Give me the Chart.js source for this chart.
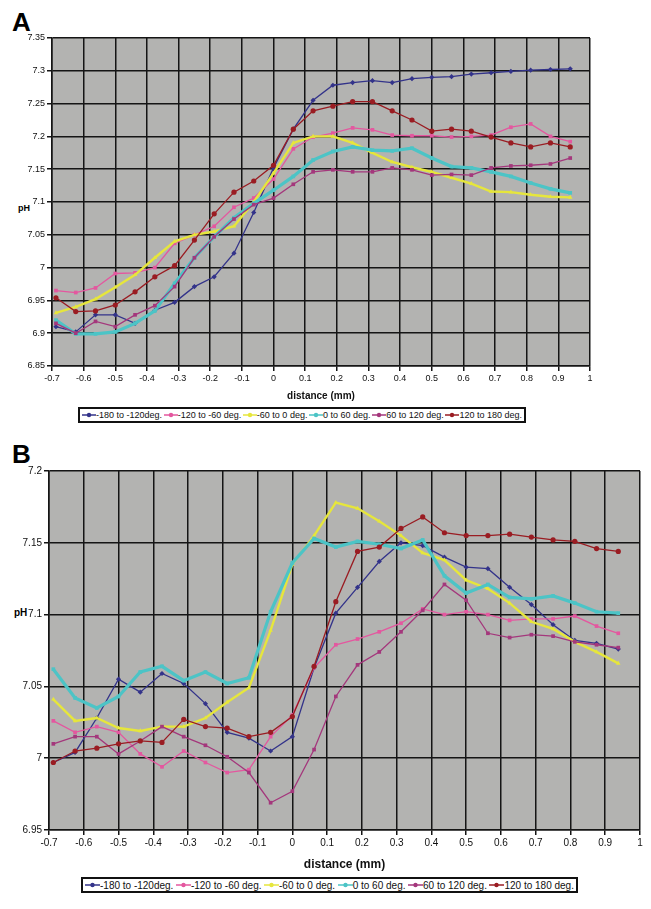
<!DOCTYPE html>
<html>
<head>
<meta charset="utf-8">
<script src="https://cdn.jsdelivr.net/npm/chart.js@4.4.0/dist/chart.umd.min.js"></script>
<style>
  body { margin:0; background:#fff; font-family:"Liberation Sans", Arial, sans-serif; }
  #page { position:relative; width:651px; height:909px; overflow:hidden; }
  canvas { position:absolute; left:0; }
  .panel { position:absolute; font-weight:bold; font-size:26px; line-height:1; }
  .ph { position:absolute; font-weight:bold; line-height:1; }
  .legend { position:absolute; border:2px solid #111; box-sizing:border-box; height:16px;
            display:flex; align-items:center; justify-content:space-between; padding:0 2px;
            white-space:nowrap; color:#111; }
  .legend .item { display:inline-flex; align-items:center; }
</style>
</head>
<body>
<div id="page">
  <div class="panel" style="left:12px;top:9px;">A</div>
  <div class="ph" style="left:18px;top:204px;font-size:9px;">pH</div>
  <canvas id="chartA" width="651" height="402" style="top:0;"></canvas>
  <div class="legend" id="legendA" style="left:78px;top:407px;width:448px;font-size:9px;"></div>

  <div class="panel" style="left:12px;top:441px;">B</div>
  <div class="ph" style="left:14px;top:608px;font-size:10px;">pH</div>
  <canvas id="chartB" width="651" height="447" style="top:425px;"></canvas>
  <div class="legend" id="legendB" style="left:81px;top:877px;width:497px;font-size:10px;"></div>
</div>
<script>
// distance (mm) of each measuring point
const distance = [-0.6875, -0.625, -0.5625, -0.5, -0.4375, -0.375, -0.3125, -0.25, -0.1875,
  -0.125, -0.0625, 0, 0.0625, 0.125, 0.1875, 0.25, 0.3125, 0.375, 0.4375, 0.5, 0.5625,
  0.625, 0.6875, 0.75, 0.8125, 0.875, 0.9375];

const seriesNames = ['-180 to -120deg.', '-120 to -60 deg.', '-60 to 0 deg.',
  '0 to 60 deg.', '60 to 120 deg.', '120 to 180 deg.'];
const seriesColors = ['#33338a', '#e4579f', '#e6e63c', '#4cc4c6', '#a4377c', '#9a1c22'];
const seriesMarkers = ['rectRot', 'rect', 'triangle', 'rect', 'rect', 'circle'];
const seriesWidths = [1.3, 1.3, 2.4, 3.2, 1.3, 1.3];

// panel A
const aNeg180 = [6.910, 6.902, 6.928, 6.928, 6.915, 6.935, 6.947, 6.971, 6.986, 7.022, 7.084,
  7.152, 7.211, 7.255, 7.278, 7.282, 7.285, 7.282, 7.288, 7.290, 7.291, 7.295, 7.297, 7.299,
  7.301, 7.302, 7.303];
const aNeg120 = [6.965, 6.962, 6.969, 6.991, 6.992, 7.000, 7.037, 7.050, 7.063, 7.092, 7.106,
  7.135, 7.181, 7.199, 7.205, 7.213, 7.210, 7.202, 7.201, 7.201, 7.199, 7.200, 7.202, 7.214,
  7.219, 7.200, 7.192];
const aNeg60 = [6.931, 6.940, 6.952, 6.970, 6.989, 7.015, 7.040, 7.050, 7.055, 7.063, 7.100,
  7.144, 7.190, 7.200, 7.200, 7.190, 7.175, 7.161, 7.153, 7.146, 7.137, 7.128, 7.116, 7.115,
  7.111, 7.108, 7.107];
const aPos0 = [6.920, 6.899, 6.899, 6.902, 6.915, 6.934, 6.976, 7.015, 7.047, 7.076, 7.098,
  7.118, 7.139, 7.164, 7.177, 7.184, 7.179, 7.178, 7.182, 7.167, 7.154, 7.152, 7.146, 7.139,
  7.129, 7.120, 7.114];
const aPos60 = [6.915, 6.900, 6.918, 6.910, 6.928, 6.942, 6.971, 7.015, 7.047, 7.074, 7.096,
  7.106, 7.127, 7.146, 7.149, 7.146, 7.146, 7.152, 7.149, 7.141, 7.142, 7.141, 7.152, 7.155,
  7.156, 7.158, 7.167];
const aPos120 = [6.954, 6.933, 6.934, 6.943, 6.963, 6.986, 7.003, 7.042, 7.082, 7.115, 7.132,
  7.156, 7.211, 7.239, 7.246, 7.253, 7.253, 7.239, 7.225, 7.208, 7.211, 7.208, 7.199, 7.190,
  7.184, 7.190, 7.184];

// panel B
const bNeg180 = [6.997, 7.004, 7.028, 7.055, 7.046, 7.059, 7.052, 7.038, 7.018, 7.014, 7.005,
  7.015, 7.063, 7.101, 7.119, 7.137, 7.150, 7.148, 7.140, 7.133, 7.132, 7.119, 7.107, 7.093,
  7.082, 7.080, 7.076];
const bNeg120 = [7.026, 7.018, 7.022, 7.018, 7.003, 6.994, 7.005, 6.997, 6.990, 6.992, 7.015,
  7.030, 7.063, 7.079, 7.083, 7.088, 7.094, 7.104, 7.100, 7.102, 7.100, 7.096, 7.097, 7.097,
  7.099, 7.092, 7.087];
const bNeg60 = [7.041, 7.026, 7.028, 7.021, 7.019, 7.022, 7.022, 7.028, 7.039, 7.049, 7.089,
  7.135, 7.155, 7.178, 7.174, 7.165, 7.155, 7.143, 7.138, 7.124, 7.118, 7.108, 7.095, 7.090,
  7.081, 7.074, 7.066];
const bPos0 = [7.062, 7.042, 7.035, 7.043, 7.060, 7.064, 7.054, 7.060, 7.052, 7.056, 7.102,
  7.136, 7.153, 7.147, 7.151, 7.149, 7.146, 7.152, 7.127, 7.115, 7.121, 7.112, 7.111, 7.113,
  7.108, 7.102, 7.101];
const bPos60 = [7.010, 7.015, 7.015, 7.003, 7.012, 7.022, 7.015, 7.009, 7.001, 6.990, 6.969,
  6.977, 7.006, 7.043, 7.065, 7.074, 7.088, 7.103, 7.121, 7.110, 7.087, 7.084, 7.086, 7.085,
  7.081, 7.079, 7.077];
const bPos120 = [6.997, 7.005, 7.007, 7.010, 7.012, 7.011, 7.027, 7.022, 7.021, 7.015, 7.018,
  7.029, 7.064, 7.109, 7.144, 7.147, 7.160, 7.168, 7.157, 7.155, 7.155, 7.156, 7.154, 7.152,
  7.151, 7.146, 7.144];

const xTicks = [-0.7, -0.6, -0.5, -0.4, -0.3, -0.2, -0.1, 0, 0.1, 0.2, 0.3, 0.4, 0.5, 0.6, 0.7, 0.8, 0.9, 1];
const yTicksA = [6.85, 6.9, 6.95, 7, 7.05, 7.1, 7.15, 7.2, 7.25, 7.3, 7.35];
const yTicksB = [6.95, 7, 7.05, 7.1, 7.15, 7.2];

// grey plot background
const plotBg = {
  id: 'plotBg',
  beforeDraw(chart) {
    const a = chart.chartArea, ctx = chart.ctx;
    ctx.save();
    ctx.fillStyle = '#b3b3b1';
    ctx.fillRect(a.left, a.top, a.right - a.left, a.bottom - a.top);
    ctx.restore();
  }
};

// excel style numbers: 7, 7.1, 7.05
const fmt = v => String(+(+v).toFixed(2));

function makeChart(id, series, yTicks, o) {
  const datasets = series.map((vals, i) => ({
    label: seriesNames[i],
    data: vals.map((v, j) => ({ x: distance[j], y: v })),
    borderColor: seriesColors[i],
    backgroundColor: seriesColors[i],
    borderWidth: seriesWidths[i],
    pointStyle: seriesMarkers[i],
    pointRadius: 2.6,
    pointBorderWidth: 0,
    order: series.length - i,
    tension: 0
  }));
  const tickFont = { family: '"Liberation Sans", Arial, sans-serif', size: o.tick };
  return new Chart(document.getElementById(id), {
    type: 'line',
    data: { datasets },
    options: {
      responsive: false,
      animation: false,
      layout: { padding: { top: o.top, right: o.right, left: 0, bottom: 0 } },
      plugins: { legend: { display: false }, tooltip: { enabled: false } },
      scales: {
        x: {
          type: 'linear', min: -0.7, max: 1,
          afterBuildTicks: ax => { ax.ticks = xTicks.map(v => ({ value: v })); },
          afterFit: ax => { ax.height = o.xh; },
          ticks: { font: tickFont, color: '#111', padding: 2, maxRotation: 0, autoSkip: false,
                   callback: fmt },
          grid: { color: '#151515', lineWidth: 1.5, tickLength: 5, tickColor: '#151515' },
          border: { color: '#151515', width: 1.5 },
          title: { display: true, text: 'distance (mm)', color: '#111', padding: 0,
                   font: { family: '"Liberation Sans", Arial, sans-serif', size: o.title, weight: 'bold' } }
        },
        y: {
          min: yTicks[0], max: yTicks[yTicks.length - 1],
          afterBuildTicks: ax => { ax.ticks = yTicks.map(v => ({ value: v })); },
          afterFit: ax => { ax.width = o.yw; },
          ticks: { font: tickFont, color: '#111', padding: 2, callback: fmt },
          grid: { color: '#151515', lineWidth: 1.5, tickLength: 5, tickColor: '#151515' },
          border: { color: '#151515', width: 1.5 }
        }
      }
    },
    plugins: [plotBg]
  });
}

makeChart('chartA', [aNeg180, aNeg120, aNeg60, aPos0, aPos60, aPos120], yTicksA,
  { top: 38, right: 61, yw: 52, xh: 36, tick: 9, title: 10 });
makeChart('chartB', [bNeg180, bNeg120, bNeg60, bPos0, bPos60, bPos120], yTicksB,
  { top: 46, right: 11, yw: 49, xh: 42, tick: 10, title: 12 });

// legends: line sample with a dot, then the label
function buildLegend(id, w) {
  const el = document.getElementById(id);
  el.innerHTML = seriesNames.map((name, i) =>
    '<span class="item"><svg width="' + w + '" height="8">' +
    '<line x1="0" y1="4" x2="' + w + '" y2="4" stroke="' + seriesColors[i] + '" stroke-width="1.5"/>' +
    '<circle cx="' + (w / 2) + '" cy="4" r="2.2" fill="' + seriesColors[i] + '"/></svg>' +
    name + '</span>').join('');
}
buildLegend('legendA', 14);
buildLegend('legendB', 15);
</script>
</body>
</html>
